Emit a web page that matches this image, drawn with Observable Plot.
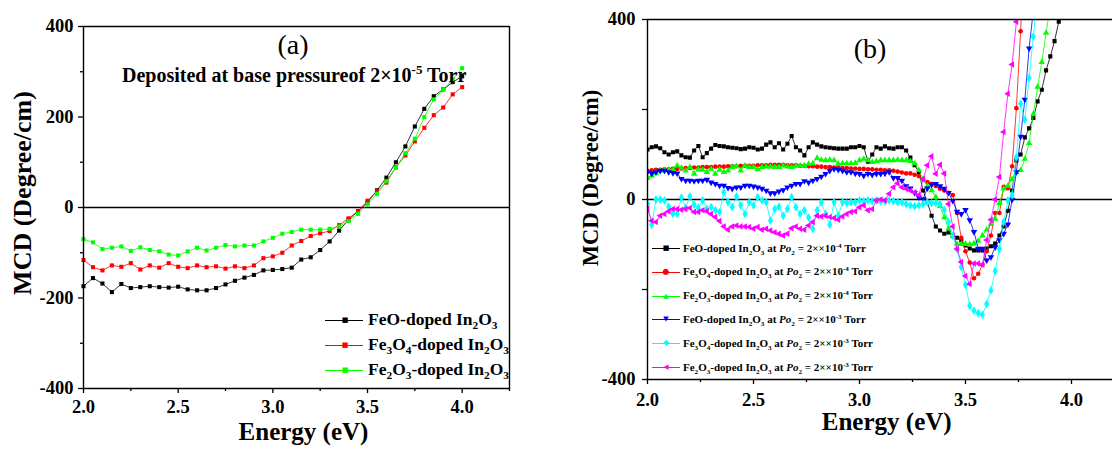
<!DOCTYPE html>
<html><head><meta charset="utf-8">
<script src="https://cdn.jsdelivr.net/npm/d3@7"></script>
<script src="https://cdn.jsdelivr.net/npm/@observablehq/plot@0.6"></script>
<style>
html,body{margin:0;padding:0;background:#fff}
#page{position:relative;width:1112px;height:450px;overflow:hidden;font-family:'Liberation Serif','Times New Roman',serif;color:#000}
#pa{position:absolute;top:0;left:0}
.box{position:absolute;box-sizing:border-box;border:1.4px solid #000;pointer-events:none}
.ov{position:absolute;white-space:nowrap;line-height:1}
.row{position:absolute;display:flex;align-items:center;white-space:nowrap;font-weight:bold;line-height:1}
.sw{position:relative;flex:none;height:12px}
.sw .ln{position:absolute;left:0;right:0;top:6px;height:1px}
.sw .mk{position:absolute;top:6px;transform:translate(-50%,-50%);font-family:'DejaVu Sans',sans-serif;font-weight:normal;line-height:1}
.row sub,.ov sub{font-size:0.65em;vertical-align:-0.35em;line-height:0}
.row sup,.ov sup{font-size:0.65em;vertical-align:0.6em;line-height:0}
</style></head>
<body><div id="page"><div id="pa"></div></div>
<script>
// ---------------- Panel (a) data ----------------
const energyA = d3.range(41).map(i => Math.round((2 + 0.05 * i) * 100) / 100);
const feoA = [-174,-156,-168,-187,-169,-178,-176,-174,-176,-177,
  -175,-181,-183,-183,-178,-170,-162,-155,-149,-139,
  -138,-136,-133,-115,-110,-94,-75,-51,-27,-8,
  11,38,66,100,135,179,218,246,261,277,290];
const fe3o4A = [-116,-132,-139,-128,-131,-123,-137,-128,-133,-123,
  -131,-134,-128,-132,-130,-135,-130,-134,-128,-112,
  -108,-100,-84,-74,-63,-57,-52,-39,-24,-8,
  15,36,55,89,115,146,176,204,221,250,266];
const fe2o3A = [-70,-77,-92,-89,-86,-96,-88,-94,-97,-104,
  -106,-97,-89,-95,-89,-83,-86,-84,-84,-75,
  -67,-58,-54,-49,-49,-49,-47,-42,-30,-14,
  7,30,58,88,120,152,200,239,261,283,308];
const seriesA = [feoA, fe3o4A, fe2o3A];
const colorsA = ["#000000", "#ff0000", "#00ff00"];
const labelsA = ["FeO-doped In<sub>2</sub>O<sub>3</sub>",
  "Fe<sub>3</sub>O<sub>4</sub>-doped In<sub>2</sub>O<sub>3</sub>",
  "Fe<sub>2</sub>O<sub>3</sub>-doped In<sub>2</sub>O<sub>3</sub>"];
const xDomainA = [2, 4.25];
const xTicksMajor = [2, 2.5, 3, 3.5, 4];
const xTicksMinorA = [2.25, 2.75, 3.25, 3.75, 4.25];
const yTicksA = [-400, -200, 0, 200, 400];
const yTicksMinorA = [-300, -100, 100, 300];

// ---------------- Panel (b) data ----------------
const energyB = d3.range(100).map(i => Math.round((2 + 0.02 * i) * 100) / 100);
const feo4B = [111,116,118,114,105,100,105,107,98,94,
  93,109,119,94,103,113,121,119,118,116,
  115,114,112,113,116,115,111,113,122,127,
  116,125,111,124,141,116,109,98,116,127,
  122,118,116,115,114,113,113,113,116,116,
  119,116,84,100,116,113,118,114,113,116,
  116,109,93,76,61,20,-6,-36,-60,-69,
  -76,-73,-80,-85,-91,-102,-109,-113,-113,-113,
  -109,-104,-98,-80,-60,-25,20,87,100,138,
  158,181,218,244,287,318,352,395,440];
const fe3o44B = [64,65,66,66,67,67,68,68,69,70,
  70,71,71,72,72,72,73,73,73,74,
  74,74,75,75,75,75,76,76,76,77,
  77,77,77,76,76,76,75,75,74,74,
  73,73,72,72,71,71,70,70,69,69,
  68,68,67,67,66,66,65,65,64,62,
  60,58,58,55,52,45,39,35,30,24,
  20,15,10,-30,-85,-115,-140,-175,-165,-145,
  -115,-80,-30,-30,28,25,74,203,374,560];
const fe2o34B = [48,53,58,64,65,66,66,75,70,64,
  72,57,67,66,61,68,57,66,61,64,
  72,74,64,75,72,72,67,72,73,73,
  72,72,75,73,72,75,75,75,79,80,
  92,88,87,88,87,79,80,80,80,81,
  87,90,87,83,85,87,87,87,87,88,
  87,87,85,80,65,45,30,20,5,-15,
  -40,-65,-82,-99,-99,-99,-100,-98,-92,-80,
  -67,-55,-43,-8,24,30,45,60,65,90,
  125,190,250,305,370,430];
const feo3B = [61,58,61,64,64,61,59,58,46,42,
  42,41,42,42,44,38,35,31,31,26,
  24,27,27,31,31,29,27,24,20,14,
  14,18,21,27,31,35,35,41,38,42,
  46,51,57,64,68,66,64,61,61,58,
  57,53,57,55,57,57,58,61,48,48,
  42,30,25,15,5,1,25,33,35,30,
  24,15,-3,-27,-32,-23,-46,-72,-109,-109,
  -135,-128,-106,-90,-76,-55,0,61,140,222,
  336,420];
const fe3o43B = [-10,-56,0,0,-2,-16,-32,-32,4,-19,
  7,-11,-19,-2,-21,-17,-24,-28,16,-6,
  -17,7,-13,-32,-6,-13,5,-2,-6,-47,
  -21,-16,-36,-21,5,-17,-32,-24,-40,-65,
  -24,-6,-32,-56,-6,-36,-6,-8,-6,-6,
  -2,-4,-2,-4,-2,-4,-4,-2,-4,-6,
  -6,-10,-13,-15,-13,-10,-6,-8,-8,-10,
  -23,-50,-80,-110,-150,-190,-236,-247,-252,-256,
  -232,-202,-159,-110,-50,-2,10,94,213,177,
  270,362,460];
const fe2o33B = [-21,-47,-50,-36,-32,-26,-21,-21,-23,-21,
  -19,-28,-28,-24,-26,-32,-39,-48,-60,-67,
  -60,-58,-60,-60,-61,-65,-61,-67,-65,-69,
  -73,-76,-80,-76,-64,-60,-65,-67,-58,-50,
  -36,-38,-36,-39,-41,-45,-38,-32,-28,-26,
  -17,-13,-24,-21,-2,0,-2,13,27,36,
  27,24,20,16,10,45,76,96,57,77,
  58,-10,-60,-110,-139,-170,-188,-142,-142,-145,
  -90,-45,0,50,150,235,300,395,500];
const seriesB = [feo4B, fe3o44B, fe2o34B, feo3B, fe3o43B, fe2o33B];
const colorsB = ["#000000", "#ff0000", "#00ff00", "#0000ff", "#00ffff", "#ff00ff"];
const labelsB = [
  "FeO-doped In<sub>2</sub>O<sub>3</sub> at <i>Po</i><sub>2</sub> = 2××10<sup>-4</sup> Torr",
  "Fe<sub>3</sub>O<sub>4</sub>-doped In<sub>2</sub>O<sub>3</sub> at <i>Po</i><sub>2</sub> = 2××10<sup>-4</sup> Torr",
  "Fe<sub>2</sub>O<sub>3</sub>-doped In<sub>2</sub>O<sub>3</sub> at <i>Po</i><sub>2</sub> = 2××10<sup>-4</sup> Torr",
  "FeO-doped In<sub>2</sub>O<sub>3</sub> at <i>Po</i><sub>2</sub> = 2××10<sup>-3</sup> Torr",
  "Fe<sub>3</sub>O<sub>4</sub>-doped In<sub>2</sub>O<sub>3</sub> at <i>Po</i><sub>2</sub> = 2××10<sup>-3</sup> Torr",
  "Fe<sub>2</sub>O<sub>3</sub>-doped In<sub>2</sub>O<sub>3</sub> at <i>Po</i><sub>2</sub> = 2××10<sup>-3</sup> Torr"];
const xDomainB = [2, 4.2];
const xTicksMinorB = [2.25, 2.75, 3.25, 3.75];
const yTicksB = [-400, -200, 0, 200, 400];
const yLabelsB = [-400, 0, 400];

// ---------------- symbols ----------------
const symbolsB = ["square", "circle", "triangle", "triangle", "diamond", "triangle"];
const rotateB = [0, 0, 0, 180, 0, -90];
const radiiB = [2.3, 2.3, 2.4, 2.4, 2.7, 2.4];
const glyphsB = ["■", "●", "▲", "▼", "◆", "◀"];
const glyphSizeB = [7, 8, 7, 7, 8, 7];

const FONT = "'Liberation Serif','Times New Roman',serif";
const fmt = d => String(d);
const tickText = {fontFamily: FONT, fontSize: 18.5, fontWeight: "bold", strokeWidth: 1.3, label: null, tickSize: 5};

// ---------------- Panel (a) ----------------
const marksA = [
  Plot.ruleY([0], {stroke: "#000", strokeWidth: 1.3}),
  Plot.axisX(xTicksMajor, {...tickText, tickPadding: 6, tickFormat: d => d.toFixed(1)}),
  Plot.axisX(xTicksMinorA, {...tickText, tickSize: 3, tickFormat: () => ""}),
  Plot.axisY(yTicksA, {...tickText, tickPadding: 5, tickFormat: fmt}),
  Plot.axisY(yTicksMinorA, {...tickText, tickSize: 3, tickFormat: () => ""}),
  Plot.text(["Energy (eV)"], {text: d => d, frameAnchor: "bottom", dx: 7, dy: 51, fontFamily: FONT, fontSize: 25, fontWeight: "bold"})
];
seriesA.forEach((vals, k) => {
  const rows = vals.map((v, i) => ({e: energyA[i], v}));
  marksA.push(Plot.line(rows, {x: "e", y: "v", stroke: colorsA[k], strokeWidth: 0.8}));
  marksA.push(Plot.dot(rows, {x: "e", y: "v", fill: colorsA[k], symbol: "square", r: 2.3}));
});
marksA.push(Plot.ruleX(xDomainA, {stroke: "#000", strokeWidth: 1.4}));
marksA.push(Plot.ruleY([-400, 400], {stroke: "#000", strokeWidth: 1.4}));
const plotA = Plot.plot({
  width: 520, height: 450,
  marginLeft: 83, marginRight: 11, marginTop: 26, marginBottom: 62,
  x: {domain: xDomainA, axis: null},
  y: {domain: [-400, 400], axis: null},
  marks: marksA
});

// ---------------- Panel (b) ----------------
const marksB = [
  Plot.ruleY([0], {stroke: "#000", strokeWidth: 1.3}),
  Plot.axisX(xTicksMajor, {...tickText, tickPadding: 8, tickFormat: d => d.toFixed(1)}),
  Plot.axisX(xTicksMinorB, {...tickText, tickSize: 3, tickFormat: () => ""}),
  Plot.axisY(yTicksB, {...tickText, tickPadding: 7, tickFormat: d => yLabelsB.includes(d) ? fmt(d) : ""}),
  Plot.text(["Energy (eV)"], {text: d => d, frameAnchor: "bottom", dx: 6, dy: 50, fontFamily: FONT, fontSize: 25, fontWeight: "bold"})
];
seriesB.forEach((vals, k) => {
  const rows = vals.map((v, i) => ({e: energyB[i], v}));
  marksB.push(Plot.line(rows, {x: "e", y: "v", stroke: colorsB[k], strokeWidth: 0.8, clip: true}));
  marksB.push(Plot.dot(rows, {x: "e", y: "v", fill: colorsB[k], symbol: symbolsB[k], rotate: rotateB[k], r: radiiB[k], clip: true}));
});
marksB.push(Plot.ruleX(xDomainB, {stroke: "#000", strokeWidth: 1.4}));
marksB.push(Plot.ruleY([-400, 400], {stroke: "#000", strokeWidth: 1.4}));
const plotB = Plot.plot({
  width: 560, height: 450,
  marginLeft: 87, marginRight: 6.6, marginTop: 19, marginBottom: 71,
  x: {domain: xDomainB, axis: null},
  y: {domain: [-400, 400], axis: null},
  marks: marksB
});

// merge both Plot panels into one SVG (panel b shifted right)
const OFFSET_B = 560;
plotA.setAttribute("width", 1112);
plotA.setAttribute("viewBox", "0 0 1112 450");
const gB = document.createElementNS("http://www.w3.org/2000/svg", "g");
gB.setAttribute("transform", `translate(${OFFSET_B},0)`);
Array.from(plotB.childNodes).forEach(n => { if (String(n.nodeName).toLowerCase() !== "style") gB.appendChild(n); });
plotA.appendChild(gB);
document.getElementById("pa").appendChild(plotA);

// ---------------- frame boxes, placed from the Plot scales ----------------
const page = document.getElementById("page");
function frameBox(plot, xd, offset) {
  const sx = plot.scale("x"), sy = plot.scale("y");
  const L = sx.apply(xd[0]) + offset + 0.5, R = sx.apply(xd[1]) + offset + 0.5;
  const T = sy.apply(400) + 0.5, B = sy.apply(-400) + 0.5;
  const d = document.createElement("div");
  d.className = "box";
  d.style.cssText = `left:${L - 0.7}px;top:${T - 0.7}px;width:${R - L + 1.4}px;height:${B - T + 1.4}px;`;
  page.appendChild(d);
}
frameBox(plotA, xDomainA, 0);
frameBox(plotB, xDomainB, OFFSET_B);

// ---------------- annotations & legends (HTML overlays) ----------------
function addText(html, left, top, css) {
  const d = document.createElement("div");
  d.className = "ov";
  d.style.cssText = `left:${left}px;top:${top}px;` + css;
  d.innerHTML = html;
  page.appendChild(d);
  return d;
}
addText("(a)", 293, 45, "font-size:28px;transform:translate(-50%,-50%)");
addText("(b)", 870, 49, "font-size:28px;transform:translate(-50%,-50%)");
addText("Deposited at base pressureof 2×10<sup>-5</sup> Torr", 122, 75, "font-size:20px;font-weight:bold;transform:translateY(-50%)");
addText("MCD (Degree/cm)", 23, 193, "font-size:26px;font-weight:bold;transform:translate(-50%,-50%) rotate(-90deg)");
addText("MCD (Degree/cm)", 591, 178, "font-size:22.5px;font-weight:bold;transform:translate(-50%,-50%) rotate(-90deg)");

function legendRow(html, color, glyph, gsize, left, cy, w, mx, fontSize, gap) {
  const d = document.createElement("div");
  d.className = "row";
  d.style.cssText = `left:${left}px;top:${cy - 10}px;height:20px;font-size:${fontSize}px;`;
  d.innerHTML = `<span class="sw" style="width:${w}px"><span class="ln" style="background:${color}"></span><span class="mk" style="left:${mx}px;color:${color};font-size:${gsize}px">${glyph}</span></span><span style="margin-left:${gap}px">${html}</span>`;
  page.appendChild(d);
}
labelsA.forEach((t, k) => legendRow(t, colorsA[k], "■", 7, 325, 320 + 25 * k, 38, 20, 17.5, 5));
labelsB.forEach((t, k) => legendRow(t, colorsB[k], glyphsB[k], glyphSizeB[k], 652, 248 + 23.8 * k, 28, 14, 11, 3));
</script>
</body></html>
